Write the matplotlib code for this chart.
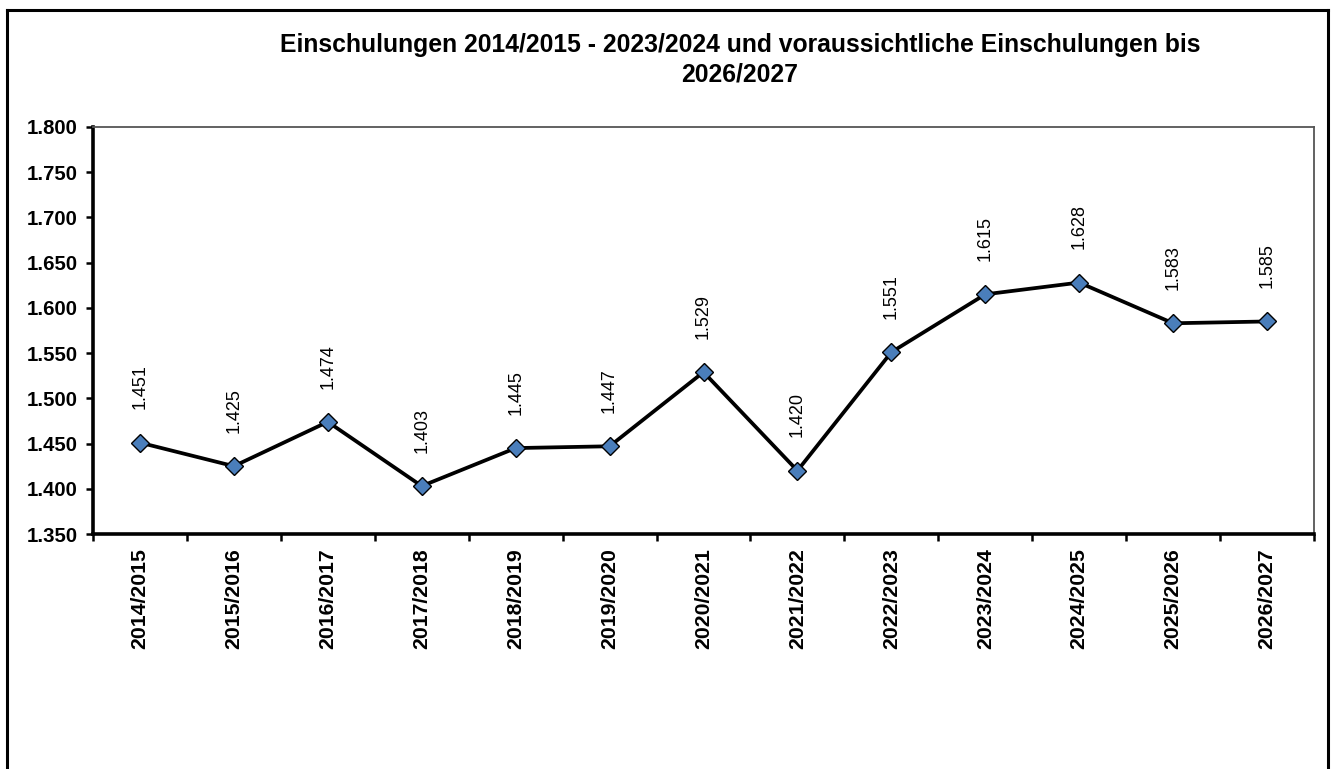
import matplotlib.pyplot as plt
import numpy as np
from matplotlib.lines import Line2D

jahre = ["2014/2015", "2015/2016", "2016/2017", "2017/2018", "2018/2019", "2019/2020",
         "2020/2021", "2021/2022", "2022/2023", "2023/2024", "2024/2025", "2025/2026", "2026/2027"]
einschulungen = [1451, 1425, 1474, 1403, 1445, 1447, 1529, 1420, 1551, 1615, 1628, 1583, 1585]
y_ticks = [1350, 1400, 1450, 1500, 1550, 1600, 1650, 1700, 1750, 1800]
titel = ["Einschulungen 2014/2015 - 2023/2024 und voraussichtliche Einschulungen bis", "2026/2027"]


def de_fmt(v):
    return f"{v:,.0f}".replace(",", ".")


def main() -> None:
    plt.rcParams["font.family"] = ["Liberation Sans", "DejaVu Sans"]
    W, H = 1333, 769
    fig = plt.figure(figsize=(W / 100, H / 100), dpi=100)
    # Achsenbereich in Pixeln: links 93, rechts 1314, oben 127, unten 534
    ax = fig.add_axes([93 / W, 1 - 534 / H, (1314 - 93) / W, (534 - 127) / H])

    x = np.arange(len(jahre))
    ax.plot(x, einschulungen, color="black", lw=2.7, marker="D", ms=9,
            markerfacecolor="#4a7ebb", markeredgecolor="black", markeredgewidth=1.0, zorder=3)
    for xi, v in zip(x, einschulungen):
        ax.annotate(de_fmt(v), (xi, v), xytext=(0, 24), textcoords="offset points",
                    rotation=90, ha="center", va="bottom", fontsize=13)

    ax.set_xlim(-0.5, len(jahre) - 0.5)
    ax.set_ylim(1350, 1800)
    ax.set_yticks(y_ticks)
    ax.set_yticklabels([de_fmt(t) for t in y_ticks], fontsize=14.7, fontweight="bold")
    ax.set_xticks(x)
    ax.set_xticklabels(jahre, rotation=90, fontsize=15.3, fontweight="bold")
    ax.set_xticks(np.arange(-0.5, len(jahre)), minor=True)
    ax.tick_params(axis="x", which="major", length=0, pad=10)
    ax.tick_params(axis="x", which="minor", length=5, width=1.8, direction="out")
    ax.tick_params(axis="y", length=5, width=1.8, direction="out", pad=6)

    for s in ("left", "bottom"):
        ax.spines[s].set_linewidth(2.6)
        ax.spines[s].set_color("black")
    for s in ("top", "right"):
        ax.spines[s].set_linewidth(1.3)
        ax.spines[s].set_color("#555555")

    fig.text(740 / W, 1 - 52 / H, titel[0], ha="center", va="baseline", fontsize=17.8, fontweight="bold")
    fig.text(740 / W, 1 - 81 / H, titel[1], ha="center", va="baseline", fontsize=17.8, fontweight="bold")

    # äußerer Rahmen (unten offen wie im Original)
    x0, x1, y0 = 7 / W, 1328 / W, 1 - 10 / H
    for xs, ys in [([x0, x0], [0, y0]), ([x0, x1], [y0, y0]), ([x1, x1], [y0, 0])]:
        fig.add_artist(Line2D(xs, ys, transform=fig.transFigure, color="black", lw=2.2))

    fig.savefig("out.png", dpi=100)
    plt.close(fig)


if __name__ == "__main__":
    main()
